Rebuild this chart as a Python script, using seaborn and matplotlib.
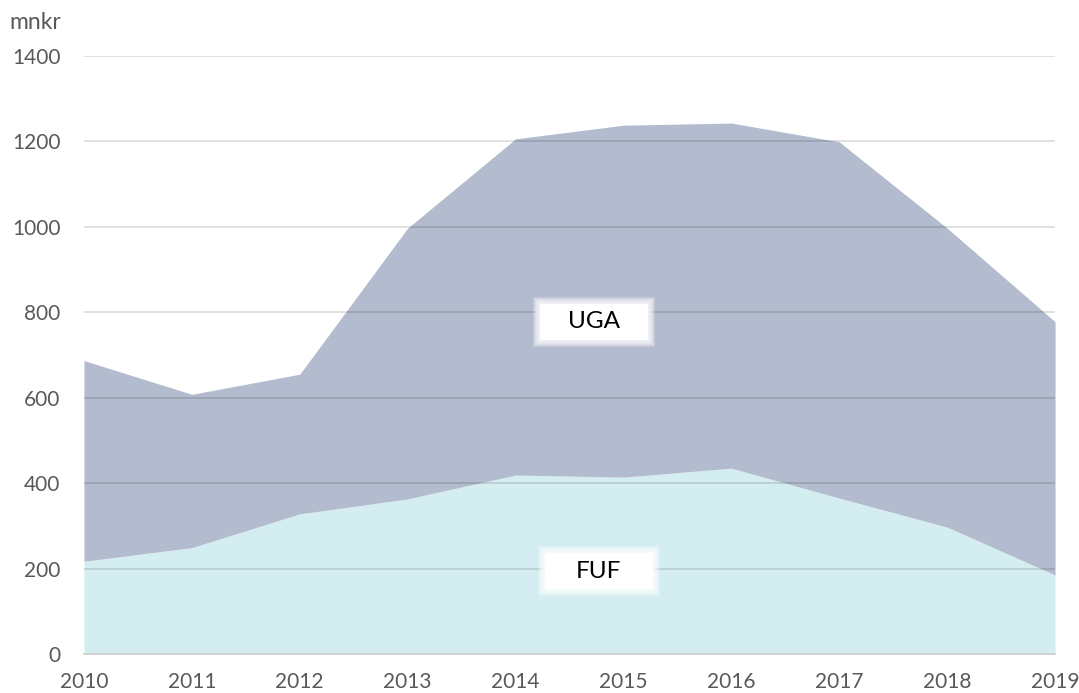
import matplotlib
matplotlib.use("Agg")
import matplotlib.pyplot as plt
from matplotlib.patches import Rectangle
import seaborn as sns
import numpy as np

years = [2010, 2011, 2012, 2013, 2014, 2015, 2016, 2017, 2018, 2019]
fuf = [217, 249, 328, 363, 419, 414, 435, 365, 297, 185]
uga = [470, 359, 327, 634, 787, 824, 808, 834, 700, 593]
y_ticks = [0, 200, 400, 600, 800, 1000, 1200, 1400]

UGA_COLOR = "#B3BBCE"
FUF_COLOR = "#D4EDF1"
TEXT_COLOR = "#595959"

sns.set_theme(style="white")
plt.rcParams["font.family"] = ["Lato", "DejaVu Sans"]

fig = plt.figure(figsize=(10.79, 6.93), dpi=100)
ax = fig.add_axes([0.0778, 0.0563, 0.9, 0.8629])

# stacked areas
total = np.array(fuf) + np.array(uga)
ax.fill_between(years, 0, fuf, color=FUF_COLOR, linewidth=0, zorder=1)
ax.fill_between(years, fuf, total, color=UGA_COLOR, linewidth=0, zorder=1)

# gridlines on top of the areas
for v in y_ticks[1:]:
    ax.axhline(v, color="black", alpha=0.13, linewidth=1.3, zorder=2)

ax.set_xlim(years[0], years[-1])
ax.set_ylim(0, 1400)
ax.set_xticks(years)
ax.set_yticks(y_ticks)
ax.tick_params(axis="x", colors="#BFBFBF", length=5, width=1, direction="out",
               labelcolor=TEXT_COLOR, labelsize=15, pad=8)
ax.tick_params(axis="y", length=0, labelcolor=TEXT_COLOR, labelsize=15, pad=17)
ax.grid(False)

for side in ["top", "right", "left"]:
    ax.spines[side].set_visible(False)
ax.spines["bottom"].set_color("#D0D0D0")
ax.spines["bottom"].set_linewidth(1.3)

fig.text(0.009, 0.968, "mnkr", color=TEXT_COLOR, fontsize=16.5, ha="left", va="center")

# series labels in soft white boxes (box size in pixels)
box_w, box_h = 108, 36
W, H = fig.bbox.width, fig.bbox.height
for label, xv, yv in [("UGA", 2014.73, 778), ("FUF", 2014.77, 194)]:
    cx, cy = ax.transData.transform((xv, yv))
    for k in range(7, -1, -1):
        w, h = box_w + 2 * k, box_h + 2 * k
        fig.patches.append(Rectangle(((cx - w / 2) / W, (cy - h / 2) / H), w / W, h / H,
                                     transform=fig.transFigure, facecolor="white",
                                     edgecolor="none", alpha=0.22 if k else 1.0, zorder=3))
    fig.text(cx / W, cy / H, label, fontsize=17.5, color="black",
             ha="center", va="center", zorder=4)

fig.savefig("out.png", dpi=100)
